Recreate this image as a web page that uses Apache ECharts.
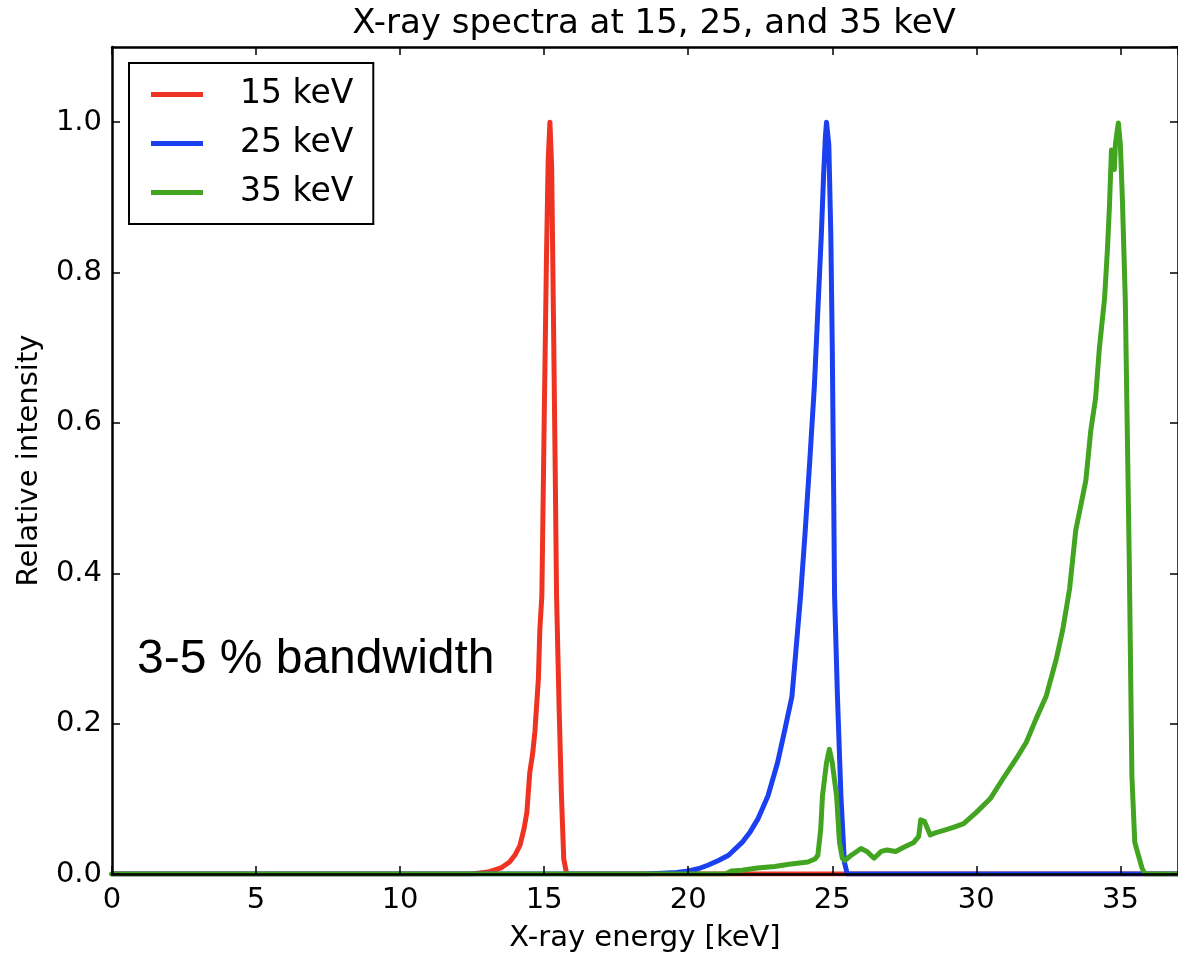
<!DOCTYPE html>
<html>
<head>
<meta charset="utf-8">
<title>X-ray spectra</title>
<script src="https://cdn.jsdelivr.net/npm/echarts@6/dist/echarts.min.js"></script>
<style>
    html, body { margin: 0; padding: 0; background: #fff; }
    #chart { width: 1178px; height: 958px; }
</style>
</head>
<body>
<div id="chart"></div>
<script>
// energy axis [keV] / relative intensity
var seriesNames = ['15 keV', '25 keV', '35 keV'];

var redE = [0, 12.5, 13.1, 13.5, 13.8, 14.0, 14.16, 14.3, 14.4, 14.5, 14.6, 14.68, 14.8, 14.85, 14.92, 15.0, 15.08, 15.14, 15.2, 15.26, 15.32, 15.38, 15.43, 15.52, 15.6, 15.68, 15.78, 37];
var redI = [0, 0, 0.003, 0.008, 0.016, 0.026, 0.038, 0.06, 0.082, 0.135, 0.16, 0.19, 0.26, 0.325, 0.37, 0.6, 0.82, 0.95, 1.0, 0.94, 0.75, 0.55, 0.37, 0.22, 0.104, 0.02, 0, 0];

var blueE = [0, 18.5, 19.1, 19.6, 20.0, 20.35, 20.7, 21.05, 21.4, 21.87, 22.15, 22.43, 22.77, 23.1, 23.36, 23.6, 23.7, 23.8, 23.9, 24.05, 24.22, 24.38, 24.5, 24.62, 24.7, 24.76, 24.8, 24.88, 24.95, 25.0, 25.05, 25.08, 25.18, 25.3, 25.42, 25.52, 37];
var blueI = [0, 0, 0.001, 0.002, 0.004, 0.007, 0.012, 0.018, 0.025, 0.042, 0.056, 0.074, 0.104, 0.148, 0.193, 0.236, 0.28, 0.325, 0.37, 0.45, 0.55, 0.65, 0.75, 0.85, 0.93, 0.98, 1.0, 0.97, 0.85, 0.7, 0.5, 0.37, 0.236, 0.104, 0.016, 0, 0];

var greenE = [0, 21.3, 21.5, 21.87, 22.4, 23.0, 23.5, 24.15, 24.4, 24.5, 24.6, 24.66, 24.8, 24.9, 25.0, 25.15, 25.25, 25.35, 25.45, 25.66, 26.0, 26.2, 26.45, 26.7, 26.9, 27.2, 27.5, 27.83, 28.0, 28.07, 28.2, 28.4, 28.6, 28.87, 29.2, 29.56, 30.0, 30.48, 30.93, 31.38, 31.73, 32.07, 32.42, 32.77, 33.0, 33.24, 33.45, 33.8, 33.97, 34.14, 34.27, 34.45, 34.55, 34.62, 34.69, 34.79, 34.83, 34.93, 35.0, 35.07, 35.17, 35.24, 35.31, 35.4, 35.5, 35.75, 35.85, 37];
var greenI = [0, 0, 0.004, 0.005, 0.008, 0.01, 0.013, 0.016, 0.02, 0.025, 0.06, 0.104, 0.148, 0.166, 0.148, 0.104, 0.042, 0.021, 0.018, 0.025, 0.034, 0.03, 0.021, 0.03, 0.032, 0.03, 0.036, 0.042, 0.05, 0.072, 0.07, 0.052, 0.055, 0.058, 0.062, 0.067, 0.082, 0.1, 0.127, 0.153, 0.175, 0.206, 0.236, 0.285, 0.325, 0.38, 0.457, 0.523, 0.589, 0.633, 0.699, 0.765, 0.83, 0.888, 0.963, 0.937, 0.972, 0.999, 0.97, 0.897, 0.765, 0.589, 0.412, 0.13, 0.042, 0.008, 0, 0];

var xTicks = [0, 5, 10, 15, 20, 25, 30, 35];
var yTicks = [0.0, 0.2, 0.4, 0.6, 0.8, 1.0];

var colors = ['#ee3322', '#1a40f0', '#42a420'];
var font = 'DejaVu Sans';

function zip(xs, ys) {
    var out = [];
    for (var i = 0; i < xs.length; i++) {
        out.push([xs[i], ys[i]]);
    }
    return out;
}

var chart = echarts.init(document.getElementById('chart'));

var spine = { show: true, onZero: false, lineStyle: { color: '#000', width: 2.5 } };
var tick = { show: true, inside: true, length: 8, lineStyle: { color: '#000', width: 1.5 } };

function makeLine(i, xs, ys) {
    return {
        name: seriesNames[i],
        type: 'line',
        showSymbol: false,
        lineStyle: { width: 5, color: colors[i], join: 'round', cap: 'round' },
        data: zip(xs, ys)
    };
}

var option = {
    backgroundColor: '#fff',
    animation: false,
    color: colors,
    title: {
        text: 'X-ray spectra at 15, 25, and 35 keV',
        left: 649,
        textAlign: 'center',
        top: 2,
        textStyle: { fontFamily: font, fontSize: 34, fontWeight: 'normal', color: '#000' }
    },
    legend: {
        orient: 'vertical',
        left: 129,
        top: 63,
        data: seriesNames,
        icon: 'rect',
        itemWidth: 52,
        itemHeight: 5,
        itemGap: 16,
        padding: [15, 20, 15, 22],
        borderColor: '#000',
        borderWidth: 2,
        backgroundColor: '#fff',
        textStyle: { fontFamily: font, fontSize: 33, color: '#000', padding: [0, 0, 0, 32] }
    },
    grid: { left: 112, top: 47, right: -8, bottom: 79 },
    xAxis: [{
        type: 'value',
        min: 0, max: 37, interval: 5,
        position: 'bottom',
        z: 10,
        axisLine: spine,
        axisTick: tick,
        splitLine: { show: false },
        axisLabel: {
            showMaxLabel: false, margin: 12, color: '#000',
            fontFamily: font, fontSize: 29,
            formatter: function (v) { return xTicks.indexOf(v) >= 0 ? String(v) : ''; }
        },
        name: 'X-ray energy [keV]',
        nameLocation: 'middle',
        nameGap: 50,
        nameTextStyle: { fontFamily: font, fontSize: 29, color: '#000' }
    }, {
        type: 'value',
        min: 0, max: 37, interval: 5,
        position: 'top',
        z: 10,
        axisLine: spine,
        axisTick: tick,
        splitLine: { show: false },
        axisLabel: { show: false }
    }],
    yAxis: [{
        type: 'value',
        min: 0, max: 1.1, interval: 0.2,
        position: 'left',
        z: 10,
        axisLine: spine,
        axisTick: tick,
        splitLine: { show: false },
        axisLabel: {
            showMaxLabel: false, margin: 10, color: '#000',
            fontFamily: font, fontSize: 29,
            formatter: function (v) { return v.toFixed(1); }
        },
        name: 'Relative intensity',
        nameLocation: 'middle',
        nameGap: 68,
        nameTextStyle: { fontFamily: font, fontSize: 29, color: '#000' }
    }, {
        type: 'value',
        min: 0, max: 1.1, interval: 0.2,
        position: 'right',
        z: 10,
        axisLine: spine,
        axisTick: tick,
        splitLine: { show: false },
        axisLabel: { show: false }
    }],
    series: [
        makeLine(0, redE, redI),
        makeLine(1, blueE, blueI),
        makeLine(2, greenE, greenI)
    ],
    graphic: [{
        type: 'text',
        left: 137,
        top: 636,
        style: {
            text: '3-5 % bandwidth',
            fontFamily: 'Liberation Sans',
            fontSize: 48,
            fill: '#000'
        }
    }]
};

chart.setOption(option);
</script>
</body>
</html>
